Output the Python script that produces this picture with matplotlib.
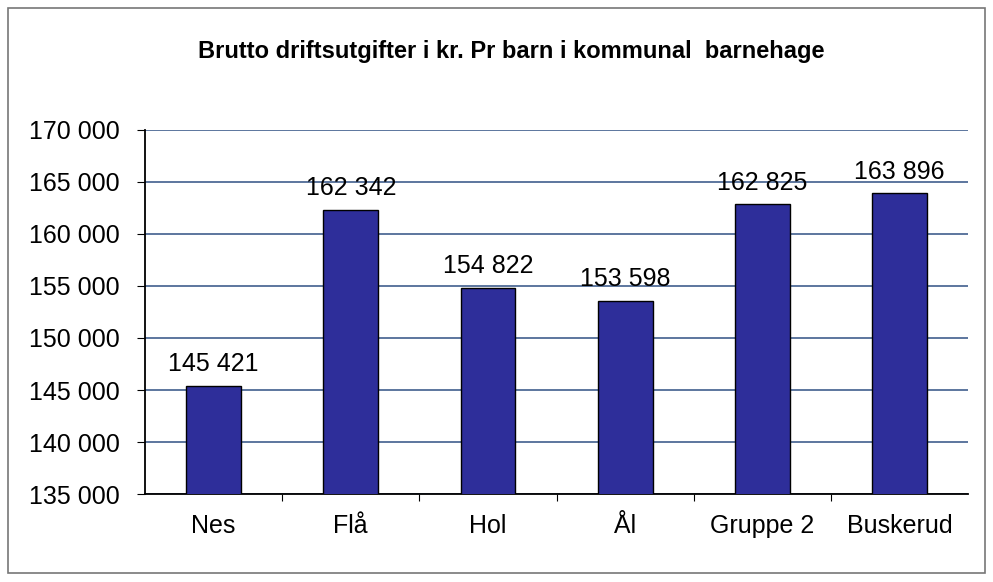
import matplotlib
matplotlib.use('Agg')
import matplotlib.pyplot as plt
from matplotlib.patches import Rectangle
from matplotlib.ticker import FuncFormatter

# data
CATEGORIES = ['Nes', 'Flå', 'Hol', 'Ål', 'Gruppe 2', 'Buskerud']
VALUES = [145421, 162342, 154822, 153598, 162825, 163896]
TITLE = 'Brutto driftsutgifter i kr. Pr barn i kommunal  barnehage'

Y_MIN, Y_MAX, Y_STEP = 135000, 170000, 5000
BAR_COLOR = '#2e2e9a'
GRID_COLOR = '#4f6b96'

plt.rcParams['font.family'] = ['Liberation Sans', 'DejaVu Sans']


def space_thousands(v, pos=None):
    return f'{int(v):,}'.replace(',', ' ')


fig = plt.figure(figsize=(9.93, 5.82), dpi=100)
fig.patch.set_facecolor('white')
ax = fig.add_axes([0.146, 0.151, 0.829, 0.626])

x = range(len(CATEGORIES))
ax.bar(x, VALUES, width=0.4, color=BAR_COLOR, edgecolor='black', linewidth=1, zorder=3)

ax.set_ylim(Y_MIN, Y_MAX)
ax.set_xlim(-0.5, len(CATEGORIES) - 0.5)
ax.set_yticks(range(Y_MIN, Y_MAX + 1, Y_STEP))
ax.yaxis.set_major_formatter(FuncFormatter(space_thousands))
ax.grid(axis='y', color=GRID_COLOR, linewidth=1.3, zorder=0)

# category ticks sit between bars
ax.set_xticks([i + 0.5 for i in range(len(CATEGORIES) - 1)], minor=False)
ax.set_xticklabels([])
ax.set_xticks(list(x), minor=True)
ax.set_xticklabels(CATEGORIES, minor=True, fontsize=18)
ax.tick_params(axis='x', which='minor', length=0, pad=14)
ax.tick_params(axis='x', which='major', length=5, direction='out', color='black')
ax.tick_params(axis='y', labelsize=18, length=6, direction='out', pad=12)

for s in ['top', 'right']:
    ax.spines[s].set_visible(False)
ax.spines['left'].set_color('black')
ax.spines['bottom'].set_color('black')
ax.spines['left'].set_linewidth(1.3)
ax.spines['bottom'].set_linewidth(1.3)

for i, v in enumerate(VALUES):
    ax.annotate(space_thousands(v), (i, v), xytext=(0, 7), textcoords='offset points',
                ha='center', va='bottom', fontsize=18, zorder=4)

fig.text(0.515, 0.912, TITLE, ha='center', va='center', fontsize=17, fontweight='bold')

# outer frame around the chart
fig.patches.append(Rectangle((0.008, 0.015), 0.984, 0.972, transform=fig.transFigure,
                             fill=False, edgecolor='#777777', linewidth=1.2))

fig.savefig('out.png', dpi=100)
